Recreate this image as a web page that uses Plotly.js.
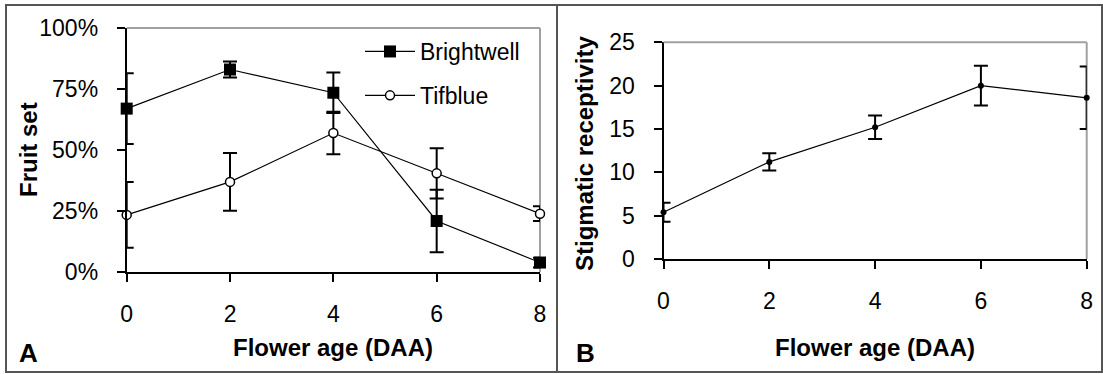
<!DOCTYPE html>
<html>
<head>
<meta charset="utf-8">
<script src="https://cdn.plot.ly/plotly-3.0.1.min.js"></script>
<style>html,body{margin:0;padding:0;background:#fff;}#chart{width:1103px;height:374px;}</style>
</head>
<body>
<div id="chart"></div>
<script>
// ---- data ----
const flowerAge = [0, 2, 4, 6, 8];
const ageTickLabels = ["0", "2", "4", "6", "8"];
const brightwell = [0.67, 0.83, 0.735, 0.21, 0.04];
const brightwellErr = [0.145, 0.033, 0.083, 0.128, 0.02];
const tifblue = [0.235, 0.37, 0.57, 0.405, 0.24];
const tifblueErr = [0.135, 0.118, 0.087, 0.103, 0.03];
const receptivity = [5.4, 11.2, 15.2, 20.0, 18.6];
const receptivityErr = [1.1, 1.0, 1.35, 2.3, 3.6];
const fruitSetTicks = [0, 0.25, 0.5, 0.75, 1];
const receptivityTicks = [0, 5, 10, 15, 20, 25];

const W = 1103, H = 374;
const FONT = 'Arial, "Liberation Sans", sans-serif';
const px = v => v / W, py = v => 1 - v / H;

const errStyle = {type: 'data', visible: true, color: '#000', thickness: 2, width: 7};

const traces = [
  {x: flowerAge, y: brightwell, name: 'Brightwell', type: 'scatter', mode: 'lines+markers',
   xaxis: 'x', yaxis: 'y', legendgroup: 'b', cliponaxis: false,
   line: {color: '#000', width: 1.2},
   marker: {symbol: 'square', size: 12, color: '#000', line: {color: '#000', width: 0}},
   error_y: Object.assign({array: brightwellErr}, errStyle)},
  {x: flowerAge, y: tifblue, name: 'Tifblue', type: 'scatter', mode: 'lines+markers',
   xaxis: 'x', yaxis: 'y', legendgroup: 't', cliponaxis: false,
   line: {color: '#000', width: 1.2},
   marker: {symbol: 'circle', size: 9, color: '#fff', line: {color: '#000', width: 1.5}},
   error_y: Object.assign({array: tifblueErr}, errStyle)},
  {x: flowerAge, y: receptivity, name: 'Stigmatic receptivity', type: 'scatter', mode: 'lines+markers',
   xaxis: 'x2', yaxis: 'y2', showlegend: false, cliponaxis: false,
   line: {color: '#000', width: 1.2},
   marker: {symbol: 'circle', size: 6, color: '#000'},
   error_y: Object.assign({array: receptivityErr}, errStyle)}
];

const axisCommon = {
  showline: true, linecolor: '#000', linewidth: 2,
  ticks: 'outside', ticklen: 8, tickwidth: 2, tickcolor: '#000',
  showgrid: false, zeroline: false, fixedrange: true,
  tickfont: {family: FONT, size: 23, color: '#000'}
};

const layout = {
  width: W, height: H,
  margin: {l: 0, r: 0, t: 0, b: 0},
  paper_bgcolor: '#fff', plot_bgcolor: '#fff',
  showlegend: true,
  legend: {x: px(360), y: py(30), xanchor: 'left', yanchor: 'top',
           bgcolor: 'rgba(0,0,0,0)', borderwidth: 0, tracegroupgap: 11,
           font: {family: FONT, size: 23, color: '#000'}, itemwidth: 50},
  xaxis: Object.assign({}, axisCommon, {domain: [px(126.7), px(540)], range: [0, 8],
          tickvals: flowerAge, ticktext: ageTickLabels, anchor: 'y', ticklabelstandoff: 12}),
  yaxis: Object.assign({}, axisCommon, {domain: [py(272.3), py(28)], range: [0, 1],
          tickvals: fruitSetTicks, tickformat: '.0%', anchor: 'x', ticklabelstandoff: 14}),
  xaxis2: Object.assign({}, axisCommon, {domain: [px(663.5), px(1086.7)], range: [0, 8],
          tickvals: flowerAge, ticktext: ageTickLabels, anchor: 'y2', ticklabelstandoff: 12}),
  yaxis2: Object.assign({}, axisCommon, {domain: [py(259), py(42.3)], range: [0, 25],
          tickvals: receptivityTicks, anchor: 'x2', ticklabelstandoff: 14}),
  shapes: [
    // gray top/right plot borders
    {type: 'line', xref: 'x domain', yref: 'y domain', x0: 0, x1: 1, y0: 1, y1: 1, line: {color: '#a0a0a0', width: 2}},
    {type: 'line', xref: 'x domain', yref: 'y domain', x0: 1, x1: 1, y0: 0, y1: 1, line: {color: '#a0a0a0', width: 2}, layer: 'below'},
    {type: 'line', xref: 'x2 domain', yref: 'y2 domain', x0: 0, x1: 1, y0: 1, y1: 1, line: {color: '#a0a0a0', width: 2}},
    {type: 'line', xref: 'x2 domain', yref: 'y2 domain', x0: 1, x1: 1, y0: 0, y1: 1, line: {color: '#a0a0a0', width: 2}, layer: 'below'},
    // outer frame and divider
    {type: 'rect', xref: 'paper', yref: 'paper', x0: px(6), x1: px(1102), y0: py(372), y1: py(5), line: {color: '#555', width: 2}},
    {type: 'line', xref: 'paper', yref: 'paper', x0: px(557), x1: px(557), y0: py(372), y1: py(5), line: {color: '#555', width: 2}}
  ],
  annotations: [
    {text: '<b>Flower age (DAA)</b>', xref: 'paper', yref: 'paper', x: px(333), y: py(347), showarrow: false,
     xanchor: 'center', yanchor: 'middle', font: {family: FONT, size: 24, color: '#000'}},
    {text: '<b>Flower age (DAA)</b>', xref: 'paper', yref: 'paper', x: px(875), y: py(347), showarrow: false,
     xanchor: 'center', yanchor: 'middle', font: {family: FONT, size: 24, color: '#000'}},
    {text: '<b>Fruit set</b>', xref: 'paper', yref: 'paper', x: px(28), y: py(150), showarrow: false, textangle: -90,
     xanchor: 'center', yanchor: 'middle', font: {family: FONT, size: 24, color: '#000'}},
    {text: '<b>Stigmatic receptivity</b>', xref: 'paper', yref: 'paper', x: px(584), y: py(154), showarrow: false, textangle: -90,
     xanchor: 'center', yanchor: 'middle', font: {family: FONT, size: 24, color: '#000'}},
    {text: '<b>A</b>', xref: 'paper', yref: 'paper', x: px(28), y: py(353), showarrow: false,
     xanchor: 'center', yanchor: 'middle', font: {family: FONT, size: 26, color: '#000'}},
    {text: '<b>B</b>', xref: 'paper', yref: 'paper', x: px(585), y: py(353), showarrow: false,
     xanchor: 'center', yanchor: 'middle', font: {family: FONT, size: 26, color: '#000'}}
  ]
};

Plotly.newPlot('chart', traces, layout, {displayModeBar: false, staticPlot: true});
</script>
</body>
</html>
